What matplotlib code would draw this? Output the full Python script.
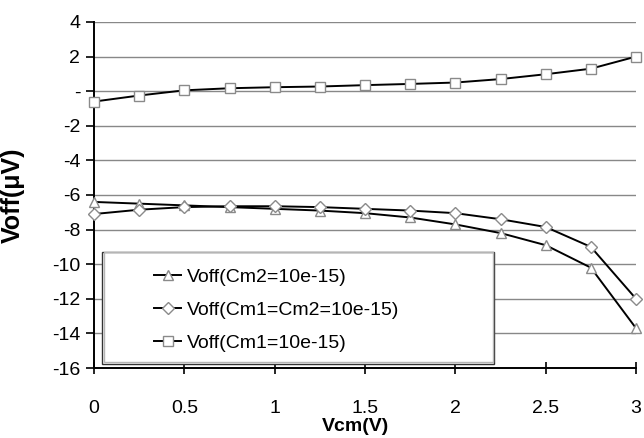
import matplotlib
matplotlib.use("Agg")
import matplotlib.pyplot as plt
from matplotlib.patches import Rectangle

plt.rcParams['font.family'] = ['Liberation Sans', 'DejaVu Sans']

# Vcm sweep (V)
vcm = [0, 0.25, 0.5, 0.75, 1.0, 1.25, 1.5, 1.75, 2.0, 2.25, 2.5, 2.75, 3.0]

# offset voltage (uV)
voff_cm2 = [-6.4, -6.5, -6.6, -6.7, -6.8, -6.9, -7.05, -7.3, -7.7, -8.2, -8.9, -10.2, -13.7]
voff_cm1cm2 = [-7.1, -6.85, -6.7, -6.65, -6.65, -6.7, -6.8, -6.9, -7.05, -7.4, -7.85, -9.0, -12.0]
voff_cm1 = [-0.6, -0.25, 0.05, 0.17, 0.23, 0.27, 0.35, 0.42, 0.5, 0.7, 0.98, 1.3, 2.0]

labels = ['Voff(Cm2=10e-15)', 'Voff(Cm1=Cm2=10e-15)', 'Voff(Cm1=10e-15)']

yticks = [-16, -14, -12, -10, -8, -6, -4, -2, 0, 2, 4]
ytick_labels = ['-16', '-14', '-12', '-10', '-8', '-6', '-4', '-2', '-', '2', '4']
xticks = [0, 0.5, 1, 1.5, 2, 2.5, 3]
xtick_labels = ['0', '0.5', '1', '1.5', '2', '2.5', '3']

fig = plt.figure(figsize=(6.44, 4.38), dpi=100)
ax = fig.add_axes([0.146, 0.1598, 0.8416, 0.79])

mk = dict(color='black', lw=1.4, markersize=7.5, markerfacecolor='white',
          markeredgecolor='#8a8a8a', markeredgewidth=1.0, clip_on=False, zorder=3)
ax.plot(vcm, voff_cm2, marker='^', label=labels[0], **mk)
ax.plot(vcm, voff_cm1cm2, marker='D', label=labels[1], **dict(mk, markersize=6.5))
ax.plot(vcm, voff_cm1, marker='s', label=labels[2], **mk)

ax.set_xlim(0, 3)
ax.set_ylim(-16, 4)
ax.set_xticks(xticks)
ax.set_xticklabels(xtick_labels)
ax.set_yticks(yticks)
ax.set_yticklabels(ytick_labels)
ax.tick_params(axis='both', labelsize=14, color='black', width=1.2)
ax.tick_params(axis='x', direction='inout', length=8, pad=19)
ax.tick_params(axis='y', direction='out', length=6, pad=4)

ax.grid(axis='y', color='#888888', lw=1.0)
ax.set_axisbelow(True)
for s in ['top', 'right']:
    ax.spines[s].set_visible(False)
for s in ['left', 'bottom']:
    ax.spines[s].set_linewidth(1.4)

ax.set_xlabel('Vcm(V)', fontsize=14, fontweight='bold')
ax.xaxis.set_label_coords(0.483, -0.145)
ax.set_ylabel('Voff(\u03bcV)', fontsize=18, fontweight='bold')
ax.yaxis.set_label_coords(-0.127, 0.5)

# legend box with a light grey inner edge, like the original
ax.add_patch(Rectangle((0.014, 0.0116), 0.724, 0.325, transform=ax.transAxes,
                       facecolor='white', edgecolor='#333333', lw=1.0, zorder=4))
ax.add_patch(Rectangle((0.0175, 0.0165), 0.718, 0.318, transform=ax.transAxes,
                       facecolor='none', edgecolor='#b5b5b5', lw=1.0, zorder=4))
leg = ax.legend(loc='center left', bbox_to_anchor=(0.111, 0.168), frameon=False,
                fontsize=14, handlelength=1.4, handletextpad=0.3, labelspacing=0.8,
                borderpad=0, borderaxespad=0)
leg.set_zorder(5)

fig.savefig('out.png', dpi=100)
